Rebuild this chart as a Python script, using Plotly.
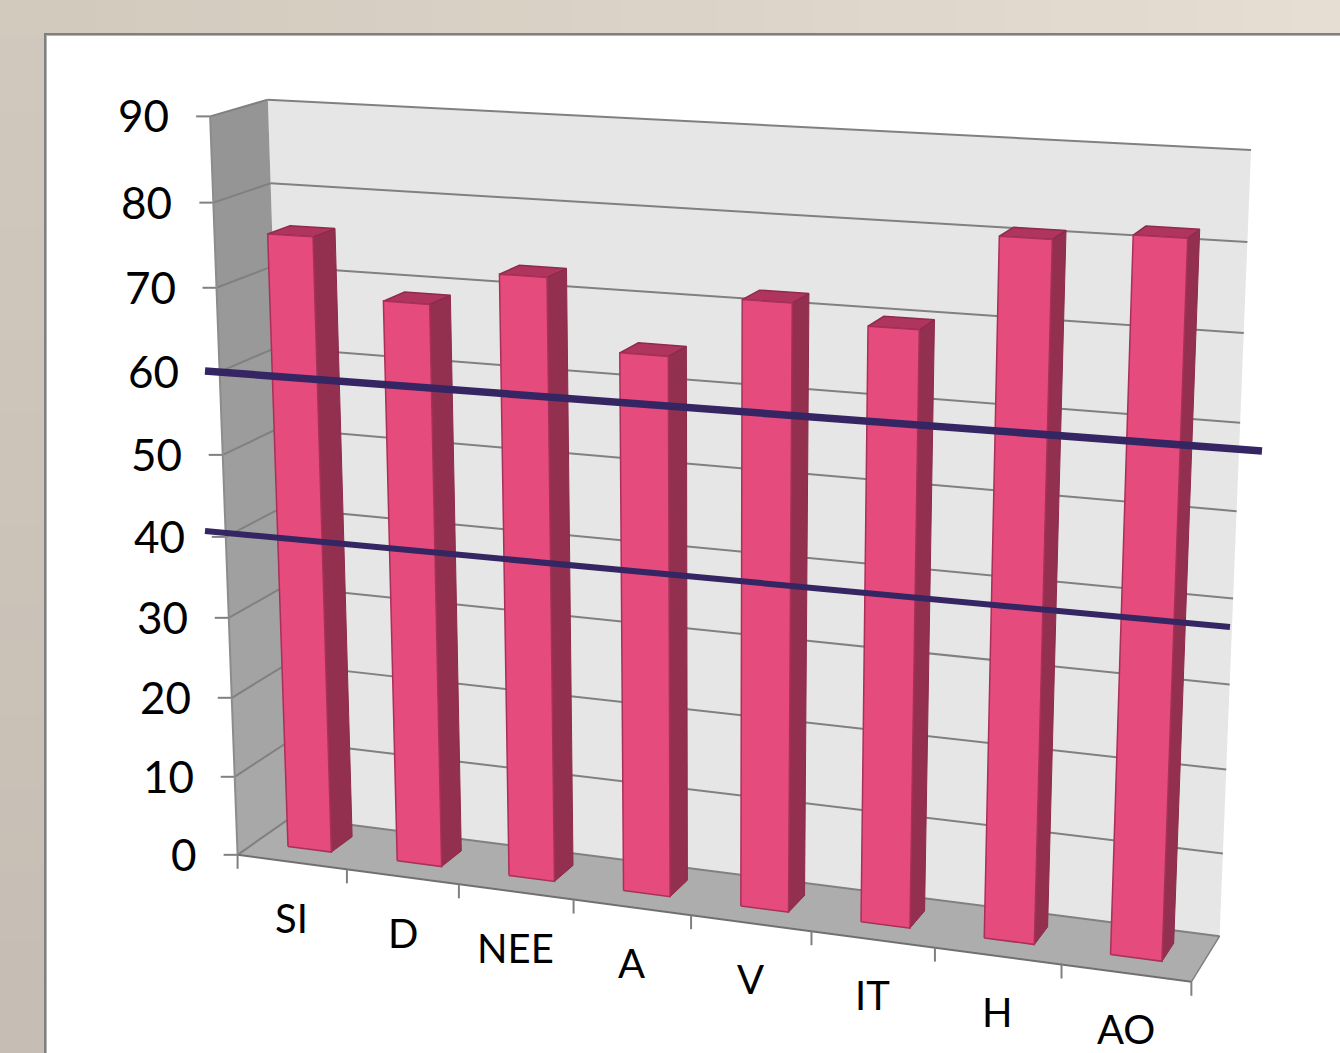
import numpy as np
import plotly.graph_objects as go

# Chart data
categories = ["SI", "D", "NEE", "A", "V", "IT", "H", "AO"]
values = [75.8, 68.8, 72.9, 64.8, 71.9, 69.9, 80.8, 81.8]
value_ticks = [0, 10, 20, 30, 40, 50, 60, 70, 80, 90]

# Two hand-drawn reference strokes laid over the chart, in page pixels
upper_band_x = [205, 1262]
upper_band_y = [371, 451]
lower_band_x = [205, 1230]
lower_band_y = [531, 627]

# Bar footprint inside a category slot (slot fraction, depth fraction)
BAR_U = (0.30, 0.70)
BAR_D = (0.33, 0.73)

# Calibration of the 3D box: (slot, value, depth) -> page pixel
calibration = [
    ((0, 0, 0), (239, 855)),
    ((0, 90, 0), (209, 116)),
    ((8, 0, 0), (1191, 982)),
    ((0, 0, 1), (290, 817)),
    ((0, 90, 1), (269, 100)),
    ((8, 90, 1), (1251, 150)),
    ((8, 0, 1), (1220, 936)),
]


def fit_projection(pairs):
    rows = []
    for (u, v, d), (px, py) in pairs:
        w = [u, v, d, 1]
        rows.append(w + [0, 0, 0, 0] + [-px * c for c in w])
        rows.append([0, 0, 0, 0] + w + [-py * c for c in w])
    return np.linalg.svd(np.array(rows, float))[2][-1].reshape(3, 4)


P = fit_projection(calibration)


def project(u, v, d):
    x, y, w = P @ np.array([u, v, d, 1.0])
    return x / w, y / w


def poly(corners, fill, line=None, width=1):
    pts = [project(*c) for c in corners]
    pts.append(pts[0])
    return go.Scatter(
        x=[p[0] for p in pts], y=[p[1] for p in pts], mode="lines",
        fill="toself", fillcolor=fill,
        line=dict(color=line or fill, width=width if line else 0),
        hoverinfo="skip", showlegend=False,
    )


def segment(a, b, color="#808080", width=2):
    pa, pb = project(*a), project(*b)
    return go.Scatter(
        x=[pa[0], pb[0]], y=[pa[1], pb[1]], mode="lines",
        line=dict(color=color, width=width),
        hoverinfo="skip", showlegend=False,
    )


def mix(a, b, t):
    c = np.array(a) + (np.array(b) - np.array(a)) * t
    return "rgb(%d,%d,%d)" % tuple(c)


fig = go.Figure()
n = len(categories)
vmax = value_ticks[-1]

# Back wall, shaded side wall, floor
fig.add_trace(poly([(0, 0, 1), (n, 0, 1), (n, vmax, 1), (0, vmax, 1)], "#E6E6E6"))
for lo, hi in zip(value_ticks[:-1], value_ticks[1:]):
    shade = mix((0xA8, 0xA8, 0xA8), (0x95, 0x95, 0x95), lo / (vmax - 10))
    fig.add_trace(poly([(0, lo, 0), (0, lo, 1), (0, hi, 1), (0, hi, 0)], shade))
fig.add_trace(poly([(0, 0, 0), (n, 0, 0), (n, 0, 1), (0, 0, 1)], "#ADADAD"))

# Gridlines wrap the side wall and the back wall
for t in value_ticks:
    fig.add_trace(segment((0, t, 0), (0, t, 1)))
    fig.add_trace(segment((0, t, 1), (n, t, 1)))
    x0, y0 = project(0, t, 0)
    fig.add_trace(go.Scatter(x=[x0 - 14, x0], y=[y0, y0], mode="lines",
                             line=dict(color="#808080", width=2),
                             hoverinfo="skip", showlegend=False))

# Axis edges and category ticks
fig.add_trace(segment((0, 0, 0), (0, vmax, 0), "#8C8C8C", 2))
fig.add_trace(segment((0, 0, 0), (n, 0, 0), "#707070", 2))
fig.add_trace(segment((n, 0, 0), (n, 0, 1), "#808080", 1.5))
for i in range(n + 1):
    x0, y0 = project(i, 0, 0)
    fig.add_trace(go.Scatter(x=[x0, x0], y=[y0, y0 + 14], mode="lines",
                             line=dict(color="#808080", width=2),
                             hoverinfo="skip", showlegend=False))

# Bars, drawn left to right
EDGE = "#8E2A4C"
for i, val in enumerate(values):
    u0, u1 = i + BAR_U[0], i + BAR_U[1]
    d0, d1 = BAR_D
    fig.add_trace(poly([(u1, 0, d0), (u1, 0, d1), (u1, val, d1), (u1, val, d0)], "#93304F", EDGE, 1))
    fig.add_trace(poly([(u0, val, d0), (u1, val, d0), (u1, val, d1), (u0, val, d1)], "#B0355E", EDGE, 1.5))
    fig.add_trace(poly([(u0, 0, d0), (u1, 0, d0), (u1, val, d0), (u0, val, d0)], "#E54B7C", "#A8305A", 1.5))

# Overlaid strokes
fig.add_trace(go.Scatter(x=upper_band_x, y=upper_band_y, mode="lines",
                         line=dict(color="#352563", width=7.5),
                         hoverinfo="skip", showlegend=False))
fig.add_trace(go.Scatter(x=lower_band_x, y=lower_band_y, mode="lines",
                         line=dict(color="#352563", width=6),
                         hoverinfo="skip", showlegend=False))

# Text labels
VALUE_FONT = dict(family="Lato", size=44, color="#000000")
CATEGORY_FONT = dict(family="Lato", size=40, color="#000000")
annotations = []
for t in value_ticks:
    x0, y0 = project(0, t, 0)
    annotations.append(dict(x=x0 - 39, y=y0 - 1, text=str(t), xanchor="right", yanchor="middle",
                            showarrow=False, font=VALUE_FONT, xref="x", yref="y"))
for i, c in enumerate(categories):
    x0, y0 = project(i + 0.5, 0, 0)
    annotations.append(dict(x=x0, y=y0 + 56, text=c, xanchor="center", yanchor="middle",
                            showarrow=False, font=CATEGORY_FONT, xref="x", yref="y"))

# Page backdrop: tinted margins around a framed white panel
shapes = []
steps = 28
for k in range(steps):
    t = k / (steps - 1)
    shapes.append(dict(type="rect", x0=0, x1=45, y0=k * 1053 / steps, y1=(k + 1) * 1053 / steps + 1,
                       fillcolor=mix((0xD2, 0xC9, 0xBE), (0xC6, 0xBD, 0xB4), t),
                       line_width=0, layer="below"))
    shapes.append(dict(type="rect", x0=k * 1340 / steps, x1=(k + 1) * 1340 / steps + 1, y0=0, y1=34,
                       fillcolor=mix((0xD3, 0xCA, 0xBE), (0xE6, 0xDD, 0xD3), t),
                       line_width=0, layer="below"))
shapes.append(dict(type="rect", x0=44, x1=1345, y0=33, y1=1060, fillcolor="#7F7F7F",
                   line_width=0, layer="below"))
shapes.append(dict(type="rect", x0=46, x1=1345, y0=35, y1=1060, fillcolor="#B4B4B4",
                   line_width=0, layer="below"))
shapes.append(dict(type="rect", x0=47, x1=1345, y0=36, y1=1060, fillcolor="#FFFFFF",
                   line_width=0, layer="below"))

fig.update_layout(
    width=1340, height=1053, margin=dict(l=0, r=0, t=0, b=0),
    paper_bgcolor="#FFFFFF", plot_bgcolor="rgba(0,0,0,0)", showlegend=False,
    xaxis=dict(range=[0, 1340], visible=False, fixedrange=True),
    yaxis=dict(range=[1053, 0], visible=False, fixedrange=True),
    shapes=shapes, annotations=annotations,
)
fig.write_html("out.html", config=dict(displayModeBar=False))
